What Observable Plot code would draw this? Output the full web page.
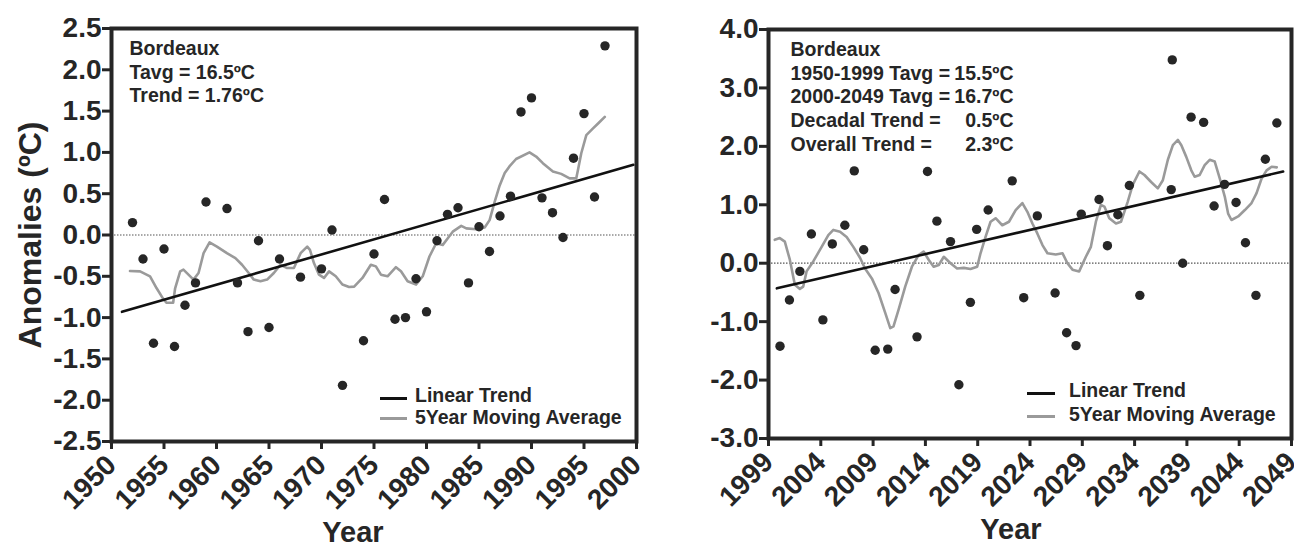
<!DOCTYPE html>
<html>
<head>
<meta charset="utf-8">
<script src="https://cdn.jsdelivr.net/npm/d3@7"></script>
<script src="https://cdn.jsdelivr.net/npm/@observablehq/plot@0.6"></script>
<style>
  html, body { margin: 0; padding: 0; background: #ffffff; }
  #wrap { position: relative; width: 1294px; height: 548px; display: flex; overflow: hidden; }
  .lg { position: absolute; font: bold 19.5px "Liberation Sans", Arial, sans-serif; color: #262626; line-height: 19.5px; white-space: nowrap; }
  .sw { position: absolute; height: 3px; }
</style>
</head>
<body>
<div id="wrap"></div>
<script>
// ---------- Left panel: 1950-1999 ----------
const leftYears = [1952,1953,1954,1955,1956,1957,1958,1959,1961,1962,1963,1964,1965,1966,1968,1970,1971,1972,1974,1975,1976,1977,1978,1979,1980,1981,1982,1983,1984,1985,1986,1987,1988,1989,1990,1991,1992,1993,1994,1995,1996,1997];
const leftAnom = [0.15,-0.29,-1.31,-0.17,-1.35,-0.85,-0.58,0.40,0.32,-0.58,-1.17,-0.07,-1.12,-0.29,-0.51,-0.41,0.06,-1.82,-1.28,-0.23,0.43,-1.02,-1.00,-0.53,-0.93,-0.07,0.25,0.33,-0.58,0.10,-0.20,0.23,0.47,1.49,1.66,0.45,0.27,-0.03,0.93,1.47,0.46,2.29];
const leftMAYears = [1951.76,1952.72,1953.67,1954.30,1954.88,1955.23,1955.87,1956.06,1956.54,1956.85,1957.33,1957.81,1958.29,1958.77,1959.34,1960.04,1960.99,1961.80,1962.43,1963.07,1963.55,1964.19,1964.82,1965.46,1966.10,1966.73,1967.37,1968.01,1968.64,1968.90,1969.28,1969.76,1970.24,1970.72,1971.36,1971.99,1972.63,1973.11,1973.90,1974.70,1975.18,1975.66,1976.29,1977.09,1977.57,1978.20,1979.01,1979.64,1980.28,1980.92,1981.55,1982.03,1982.50,1983.31,1983.79,1984.74,1985.54,1986.01,1986.49,1986.97,1987.45,1987.90,1988.53,1989.81,1990.44,1991.08,1992.04,1992.83,1993.63,1994.26,1994.43,1994.74,1995.22,1995.86,1996.34,1996.98];
const leftMAValues = [-0.435,-0.44,-0.50,-0.645,-0.765,-0.82,-0.82,-0.645,-0.44,-0.42,-0.48,-0.54,-0.46,-0.22,-0.09,-0.14,-0.22,-0.28,-0.36,-0.46,-0.54,-0.56,-0.54,-0.46,-0.36,-0.40,-0.40,-0.22,-0.14,-0.18,-0.34,-0.48,-0.52,-0.44,-0.50,-0.60,-0.63,-0.625,-0.52,-0.36,-0.38,-0.48,-0.50,-0.39,-0.44,-0.56,-0.60,-0.50,-0.26,-0.10,-0.12,-0.04,0.04,0.11,0.08,0.07,0.09,0.18,0.40,0.60,0.75,0.83,0.92,1.00,0.95,0.87,0.77,0.74,0.685,0.685,0.79,0.99,1.21,1.29,1.35,1.43];
const leftTrendYears = [1951.0, 1999.7];
const leftTrendValues = [-0.93, 0.85];
const leftXTicks = [1950,1955,1960,1965,1970,1975,1980,1985,1990,1995,2000];
const leftYTicks = [-2.5,-2.0,-1.5,-1.0,-0.5,0.0,0.5,1.0,1.5,2.0,2.5];
const leftNote = ["Bordeaux", "Tavg = 16.5ºC", "Trend = 1.76ºC"];

// ---------- Right panel: 1999-2049 ----------
const rightYears = [2000.1,2001.0,2002.0,2003.1,2004.2,2005.1,2006.3,2007.2,2008.1,2009.2,2010.4,2011.1,2013.2,2014.2,2015.1,2016.4,2017.2,2018.3,2018.9,2020.0,2022.3,2023.4,2024.7,2026.4,2027.5,2028.4,2028.9,2030.6,2031.4,2032.4,2033.5,2034.5,2037.5,2037.6,2038.6,2039.4,2040.6,2041.6,2042.6,2043.7,2044.6,2045.6,2046.5,2047.6];
const rightAnom = [-1.42,-0.63,-0.14,0.50,-0.97,0.33,0.65,1.58,0.23,-1.49,-1.47,-0.45,-1.26,1.57,0.72,0.37,-2.08,-0.67,0.58,0.91,1.41,-0.59,0.81,-0.51,-1.19,-1.41,0.84,1.09,0.30,0.83,1.33,-0.55,1.26,3.48,0.00,2.50,2.41,0.98,1.35,1.04,0.35,-0.55,1.78,2.40];
const rightMAYears = [1999.60,2000.08,2000.56,2001.04,2001.52,2002.00,2002.32,2002.64,2003.28,2004.08,2004.72,2005.20,2005.84,2006.47,2007.11,2007.76,2008.23,2008.88,2009.52,2010.16,2010.64,2010.95,2011.43,2012.07,2012.71,2013.35,2013.83,2014.31,2014.79,2015.28,2015.76,2016.40,2017.03,2017.67,2018.31,2018.95,2019.27,2019.75,2020.23,2020.71,2021.35,2021.99,2022.63,2023.27,2023.75,2024.23,2024.70,2025.19,2025.67,2026.46,2027.11,2027.58,2028.06,2028.70,2029.34,2029.82,2030.30,2030.78,2031.11,2031.58,2032.22,2032.70,2033.34,2033.82,2034.46,2034.94,2035.58,2036.22,2036.70,2037.18,2037.66,2038.14,2038.47,2038.94,2039.42,2039.74,2040.22,2040.70,2041.18,2041.66,2042.14,2042.62,2042.94,2043.26,2043.90,2044.54,2045.18,2045.66,2046.14,2046.62,2047.10,2047.59];
const rightMAValues = [0.40,0.43,0.37,0.06,-0.37,-0.44,-0.40,-0.14,0.03,0.28,0.48,0.57,0.54,0.45,0.28,0.09,-0.09,-0.26,-0.51,-0.85,-1.11,-1.08,-0.80,-0.40,-0.06,0.14,0.20,0.06,-0.06,-0.03,0.11,0.00,-0.09,-0.08,-0.10,-0.06,0.17,0.45,0.71,0.77,0.65,0.71,0.91,1.03,0.88,0.68,0.51,0.31,0.17,0.15,0.17,0.00,-0.11,-0.14,0.11,0.28,0.71,1.00,0.97,0.77,0.68,0.71,1.05,1.34,1.57,1.51,1.39,1.28,1.42,1.77,2.02,2.11,2.02,1.82,1.59,1.48,1.51,1.68,1.77,1.74,1.45,1.14,0.85,0.74,0.80,0.91,1.03,1.20,1.45,1.59,1.65,1.64];
const rightTrendYears = [1999.8, 2048.2];
const rightTrendValues = [-0.43, 1.57];
const rightXTicks = [1999,2004,2009,2014,2019,2024,2029,2034,2039,2044,2049];
const rightYTicks = [-3,-2,-1,0,1,2,3,4];
const rightNoteLabels = ["Bordeaux", "1950-1999 Tavg =", "2000-2049 Tavg =", "Decadal Trend =", "Overall Trend ="];
const rightNoteValues = ["", "15.5ºC", "16.7ºC", "0.5ºC", "2.3ºC"];

const legendLabels = ["Linear Trend", "5Year Moving Average"];
const yTitle = "Anomalies (ºC)";
const xTitle = "Year";

const INK = "#262626";
const MA_GRAY = "#9a9a9a";
const FONT = "Liberation Sans, Arial, Helvetica, sans-serif";

function zip(xs, ys) { return xs.map((x, i) => ({x, y: ys[i]})); }

function panel(cfg) {
  return Plot.plot({
    width: 647,
    height: 548,
    marginLeft: cfg.ml, marginRight: cfg.mr, marginTop: cfg.mt, marginBottom: cfg.mb,
    style: {fontFamily: FONT, fontWeight: "bold", color: INK, background: "#ffffff", overflow: "visible"},
    x: {domain: cfg.xDomain, label: null},
    y: {domain: cfg.yDomain, label: null},
    marks: [
      Plot.ruleY([0], {stroke: "#555", strokeWidth: 1.2, strokeDasharray: "1.5,1.5"}),
      Plot.line(zip(cfg.maX, cfg.maY), {x: "x", y: "y", stroke: MA_GRAY, strokeWidth: 2.6}),
      Plot.line(zip(cfg.trX, cfg.trY), {x: "x", y: "y", stroke: "#111", strokeWidth: 2.6}),
      Plot.dot(zip(cfg.ptX, cfg.ptY), {x: "x", y: "y", r: 4.7, fill: INK, stroke: "none"}),
      Plot.frame({stroke: INK, strokeWidth: 4}),
      Plot.axisX({ticks: cfg.xTicks, tickFormat: d => String(d), tickRotate: -45, tickSize: 8, tickPadding: 11, fontSize: 28, strokeWidth: 3, label: null}),
      Plot.axisY({ticks: cfg.yTicks, tickFormat: d => d.toFixed(1), tickSize: 9, tickPadding: 1, fontSize: 28, strokeWidth: 3, label: null}),
      Plot.text([xTitle], {text: d => d, frameAnchor: "bottom", dx: cfg.xTitleDx, dy: 100, lineAnchor: "bottom", textAnchor: "middle", fontSize: 29, fontWeight: "bold", fill: INK}),
      ...cfg.extra
    ]
  });
}

const left = panel({
  ml: 111, mr: 11, mt: 28, mb: 107,
  xDomain: [1950, 2000], yDomain: [-2.5, 2.5],
  maX: leftMAYears, maY: leftMAValues,
  trX: leftTrendYears, trY: leftTrendValues,
  ptX: leftYears, ptY: leftAnom,
  xTicks: leftXTicks, yTicks: leftYTicks,
  xTitleDx: -21,
  extra: [
    Plot.text([yTitle], {text: d => d, frameAnchor: "left", dx: -81, rotate: -90, textAnchor: "middle", lineAnchor: "middle", fontSize: 32, fontWeight: "bold", fill: INK}),
    Plot.text([leftNote.join("\n")], {text: d => d, frameAnchor: "top-left", dx: 18, dy: 10, textAnchor: "start", lineAnchor: "top", lineHeight: 1.205, fontSize: 19.5, fontWeight: "bold", fill: INK})
  ]
});

const right = panel({
  ml: 121, mr: 3, mt: 29, mb: 110,
  xDomain: [1999, 2049], yDomain: [-3, 4],
  maX: rightMAYears, maY: rightMAValues,
  trX: rightTrendYears, trY: rightTrendValues,
  ptX: rightYears, ptY: rightAnom,
  xTicks: rightXTicks, yTicks: rightYTicks,
  xTitleDx: -19,
  extra: [
    Plot.text([rightNoteLabels.join("\n")], {text: d => d, frameAnchor: "top-left", dx: 22, dy: 10, textAnchor: "start", lineAnchor: "top", lineHeight: 1.21, fontSize: 19.5, fontWeight: "bold", fill: INK}),
    Plot.text([rightNoteValues.join("\n")], {text: d => d, frameAnchor: "top-left", dx: 245, dy: 10, textAnchor: "end", lineAnchor: "top", lineHeight: 1.21, fontSize: 19.5, fontWeight: "bold", fill: INK})
  ]
});

const wrap = document.getElementById("wrap");
wrap.appendChild(left);
wrap.appendChild(right);

// Legends (HTML overlay, inside each frame)
function legend(swX, swW, y1, y2, textX, top1, top2) {
  const colors = ["#111", MA_GRAY];
  const ys = [y1, y2];
  const tops = [top1, top2];
  legendLabels.forEach((lab, i) => {
    const s = document.createElement("div");
    s.className = "sw";
    s.style.left = swX + "px"; s.style.width = swW + "px";
    s.style.top = (ys[i] - 1.5) + "px"; s.style.background = colors[i];
    wrap.appendChild(s);
    const t = document.createElement("div");
    t.className = "lg";
    t.style.left = textX + "px"; t.style.top = tops[i] + "px";
    t.textContent = lab;
    wrap.appendChild(t);
  });
}
legend(380, 27, 398, 418, 415, 385.5, 407.5);
legend(1027, 28, 393, 416, 1069, 380.5, 404.5);
</script>
</body>
</html>
